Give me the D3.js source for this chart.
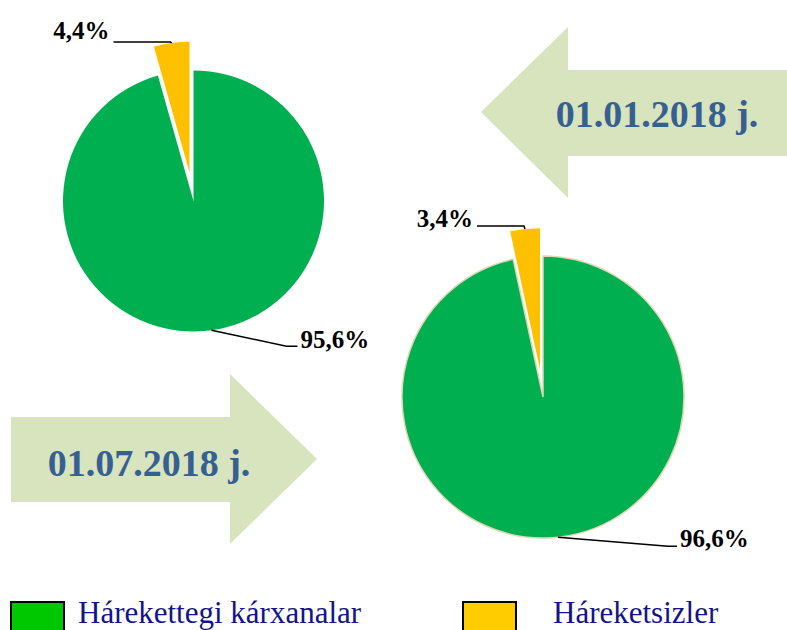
<!DOCTYPE html>
<html>
<head>
<meta charset="utf-8">
<script src="https://cdn.jsdelivr.net/npm/d3@7"></script>
<style>
  body { margin: 0; background: #fff; }
  svg { display: block; }
</style>
</head>
<body>
<div id="chart"></div>
<script>
// data
var categories = ["Hárekettegi kárxanalar", "Háreketsizler"];
var dates = ["01.01.2018 j.", "01.07.2018 j."];
var valuesJan = [95.6, 4.4];
var valuesJul = [96.6, 3.4];

var pieColors = ["#00b050", "#ffc000"];
var legendColors = ["#00c800", "#ffcc00"];

var width = 787, height = 630;

var svg = d3.select("#chart")
  .append("svg")
  .attr("width", width)
  .attr("height", height);

// arrows (drawn first, behind the pies)
function arrow(pts) {
  svg.append("polygon")
    .attr("points", pts.map(function(p) { return p.join(","); }).join(" "))
    .attr("fill", "#d7e4bd");
}
// left arrow, tip at 481
arrow([[481,112],[568,27],[568,70],[790,70],[790,156],[568,156],[568,198]]);
// right arrow, tip at 317
arrow([[11,417],[230,417],[230,374],[317,459],[230,544],[230,502],[11,502]]);

svg.append("text")
  .attr("x", 657).attr("y", 127)
  .attr("text-anchor", "middle")
  .style("font-family", "'Liberation Serif', 'Times New Roman', serif")
  .style("font-weight", "bold")
  .style("font-size", "38px")
  .attr("fill", "#376092")
  .text(dates[0]);

svg.append("text")
  .attr("x", 149).attr("y", 476)
  .attr("text-anchor", "middle")
  .style("font-family", "'Liberation Serif', 'Times New Roman', serif")
  .style("font-weight", "bold")
  .style("font-size", "38px")
  .attr("fill", "#376092")
  .text(dates[1]);

var pie = d3.pie().sort(null).value(function(d) { return d; });

function drawPie(values, cx, cy, r, explode, stroke, lab) {
  var g = svg.append("g").attr("transform", `translate(${cx},${cy})`);
  var arcs = pie(values);
  var arc = d3.arc().innerRadius(0).outerRadius(r);

  arcs.forEach(function(a, i) {
    var mid = (a.startAngle + a.endAngle) / 2;
    var off = i == 1 ? explode : 0;
    var dx = Math.sin(mid) * off, dy = -Math.cos(mid) * off;
    g.append("path")
      .attr("d", arc(a))
      .attr("transform", `translate(${dx},${dy})`)
      .attr("fill", pieColors[i])
      .attr("stroke", i == 0 ? stroke : "none")
      .attr("stroke-width", 1.5);

    // leader line from outer edge of slice
    var ro = r + off;
    var px = Math.sin(mid) * ro, py = -Math.cos(mid) * ro;
    var L = lab[i];
    var pts = [[px, py], [px + L.ex, py + L.ey], [px + L.ex + L.h, py + L.ey]];
    g.append("polyline")
      .attr("points", pts.map(function(p) { return p.join(","); }).join(" "))
      .attr("fill", "none")
      .attr("stroke", "#000")
      .attr("stroke-width", 1.5);
    var end = pts[2];
    g.append("text")
      .attr("x", end[0] + (L.h < 0 ? -4 : 3))
      .attr("y", end[1] + L.ty)
      .attr("text-anchor", L.h < 0 ? "end" : "start")
      .style("font-family", "'Liberation Serif', 'Times New Roman', serif")
      .style("font-weight", "bold")
      .style("font-size", "25px")
      .attr("fill", "#000")
      .text(d3.format(".1f")(values[i]).replace(".", ",") + "%");
  });
}

drawPie(valuesJan, 193.5, 201, 130.5, 29, "none", [
  {ex: 75, ey: 16, h: 11, ty: 2},
  {ex: -1, ey: -1, h: -57, ty: -3}
]);
drawPie(valuesJul, 543, 397, 141, 28, "#e2d6b4", [
  {ex: 110, ey: 9, h: 9, ty: 1},
  {ex: -1, ey: -3, h: -47, ty: 1}
]);

// legend
var legendX = [11, 463];
var legendTextX = [78, 553];
categories.forEach(function(c, i) {
  svg.append("rect")
    .attr("x", legendX[i]).attr("y", 602)
    .attr("width", 53).attr("height", 40)
    .attr("fill", legendColors[i])
    .attr("stroke", "#000")
    .attr("stroke-width", 2);
  svg.append("text")
    .attr("x", legendTextX[i]).attr("y", 623)
    .style("font-family", "'Liberation Serif', 'Times New Roman', serif")
    .style("font-size", "31px")
    .attr("fill", "#14148a")
    .text(c);
});
</script>
</body>
</html>
